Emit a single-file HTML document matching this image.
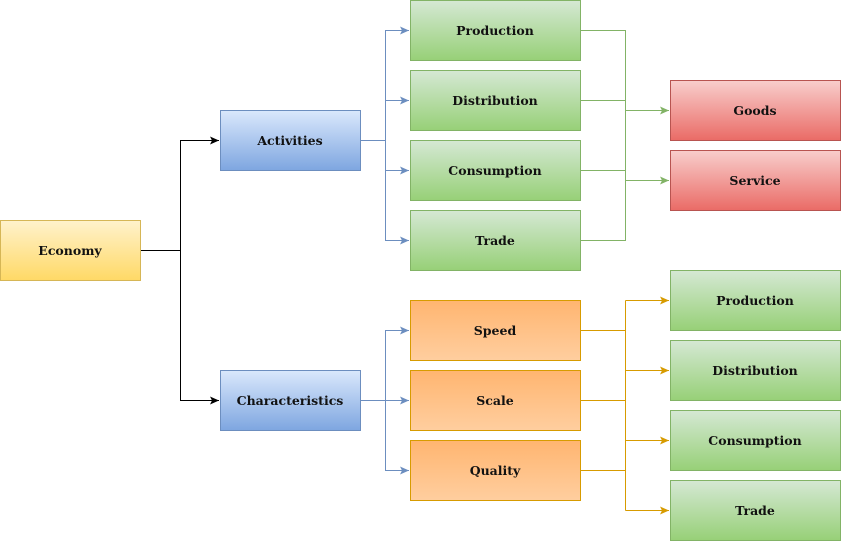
<!DOCTYPE html>
<html><head><meta charset="utf-8"><style>html,body{margin:0;padding:0;background:#fff}svg{display:block}text{font-family:"DejaVu Serif","Liberation Serif",serif;font-weight:bold;font-size:12.5px;fill:#111}</style></head>
<body>
<svg width="841" height="541" viewBox="0 0 841 541" xmlns="http://www.w3.org/2000/svg">
<defs>
<linearGradient id="gy" x1="0" y1="0" x2="0" y2="1"><stop offset="0" stop-color="#fff2cc"/><stop offset="1" stop-color="#ffd966"/></linearGradient>
<linearGradient id="gb" x1="0" y1="0" x2="0" y2="1"><stop offset="0" stop-color="#dae8fc"/><stop offset="1" stop-color="#7ea6e0"/></linearGradient>
<linearGradient id="gg" x1="0" y1="0" x2="0" y2="1"><stop offset="0" stop-color="#d5e8d4"/><stop offset="1" stop-color="#97d077"/></linearGradient>
<linearGradient id="gr" x1="0" y1="0" x2="0" y2="1"><stop offset="0" stop-color="#f8cecc"/><stop offset="1" stop-color="#ea6b66"/></linearGradient>
<linearGradient id="go" x1="0" y1="0" x2="0" y2="1"><stop offset="0" stop-color="#ffb570"/><stop offset="1" stop-color="#ffce9f"/></linearGradient>
<marker id="ak" markerWidth="10" markerHeight="10" refX="9" refY="5" orient="auto" markerUnits="userSpaceOnUse"><path d="M0,1 L9,5 L0,9 L2,5 z" fill="#000"/></marker>
<marker id="ab" markerWidth="10" markerHeight="10" refX="9" refY="5" orient="auto" markerUnits="userSpaceOnUse"><path d="M0,1 L9,5 L0,9 L2,5 z" fill="#6c8ebf"/></marker>
<marker id="ag" markerWidth="10" markerHeight="10" refX="9" refY="5" orient="auto" markerUnits="userSpaceOnUse"><path d="M0,1 L9,5 L0,9 L2,5 z" fill="#82b366"/></marker>
<marker id="ao" markerWidth="10" markerHeight="10" refX="9" refY="5" orient="auto" markerUnits="userSpaceOnUse"><path d="M0,1 L9,5 L0,9 L2,5 z" fill="#d79b00"/></marker>
</defs>
<g fill="none" stroke-width="1">
<g stroke="#000">
<path d="M140.5,250.5 H180.5 V140.5 H219" marker-end="url(#ak)"/>
<path d="M180.5,250.5 V400.5 H219" marker-end="url(#ak)"/>
</g>
<g stroke="#6c8ebf">
<path d="M360.5,140.5 H385.5 V30.5 H409" marker-end="url(#ab)"/>
<path d="M385.5,140.5 V100.5 H409" marker-end="url(#ab)"/>
<path d="M385.5,140.5 V170.5 H409" marker-end="url(#ab)"/>
<path d="M385.5,140.5 V240.5 H409" marker-end="url(#ab)"/>
<path d="M360.5,400.5 H385.5 V330.5 H409" marker-end="url(#ab)"/>
<path d="M385.5,400.5 H409" marker-end="url(#ab)"/>
<path d="M385.5,400.5 V470.5 H409" marker-end="url(#ab)"/>
</g>
<g stroke="#82b366">
<path d="M580.5,30.5 H625.5 V240.5 H580.5"/>
<path d="M580.5,100.5 H625.5 M580.5,170.5 H625.5"/>
<path d="M625.5,110.5 H669" marker-end="url(#ag)"/>
<path d="M625.5,180.5 H669" marker-end="url(#ag)"/>
</g>
<g stroke="#d79b00">
<path d="M580.5,330.5 H625.5 M580.5,400.5 H625.5 M580.5,470.5 H625.5"/>
<path d="M625.5,300.5 V510.5"/>
<path d="M625.5,300.5 H669" marker-end="url(#ao)"/>
<path d="M625.5,370.5 H669" marker-end="url(#ao)"/>
<path d="M625.5,440.5 H669" marker-end="url(#ao)"/>
<path d="M625.5,510.5 H669" marker-end="url(#ao)"/>
</g>
</g>
<rect x="0.5" y="220.5" width="140" height="60" fill="url(#gy)" stroke="#d6b656"/>
<rect x="220.5" y="110.5" width="140" height="60" fill="url(#gb)" stroke="#6c8ebf"/>
<rect x="220.5" y="370.5" width="140" height="60" fill="url(#gb)" stroke="#6c8ebf"/>
<g fill="url(#gg)" stroke="#82b366">
<rect x="410.5" y="0.5" width="170" height="60"/>
<rect x="410.5" y="70.5" width="170" height="60"/>
<rect x="410.5" y="140.5" width="170" height="60"/>
<rect x="410.5" y="210.5" width="170" height="60"/>
<rect x="670.5" y="270.5" width="170" height="60"/>
<rect x="670.5" y="340.5" width="170" height="60"/>
<rect x="670.5" y="410.5" width="170" height="60"/>
<rect x="670.5" y="480.5" width="170" height="60"/>
</g>
<g fill="url(#gr)" stroke="#b85450">
<rect x="670.5" y="80.5" width="170" height="60"/>
<rect x="670.5" y="150.5" width="170" height="60"/>
</g>
<g fill="url(#go)" stroke="#d79b00">
<rect x="410.5" y="300.5" width="170" height="60"/>
<rect x="410.5" y="370.5" width="170" height="60"/>
<rect x="410.5" y="440.5" width="170" height="60"/>
</g>
<g text-anchor="middle">
<text x="70" y="255">Economy</text>
<text x="290" y="145">Activities</text>
<text x="290" y="405">Characteristics</text>
<text x="495" y="35">Production</text>
<text x="495" y="105">Distribution</text>
<text x="495" y="175">Consumption</text>
<text x="495" y="245">Trade</text>
<text x="755" y="115">Goods</text>
<text x="755" y="185">Service</text>
<text x="495" y="335">Speed</text>
<text x="495" y="405">Scale</text>
<text x="495" y="475">Quality</text>
<text x="755" y="305">Production</text>
<text x="755" y="375">Distribution</text>
<text x="755" y="445">Consumption</text>
<text x="755" y="515">Trade</text>
</g>
</svg>
</body></html>
